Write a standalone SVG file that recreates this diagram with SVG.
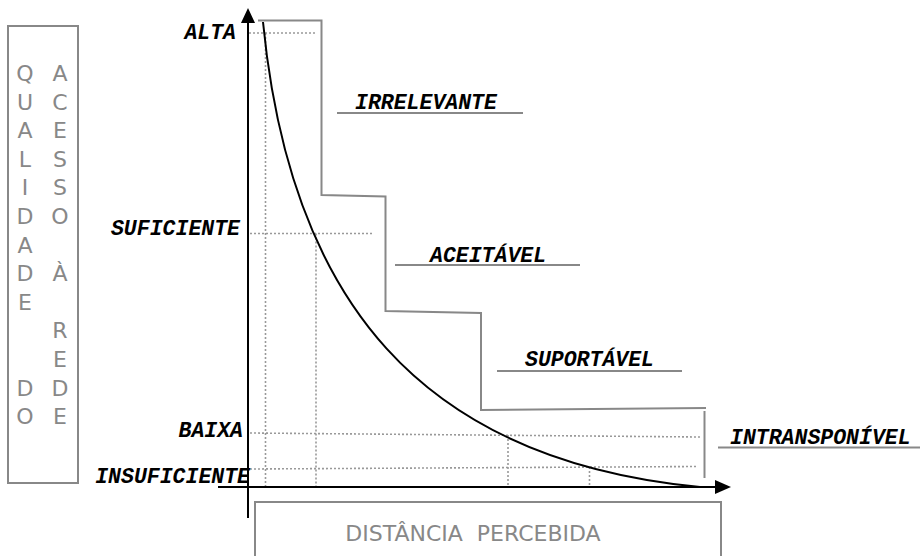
<svg xmlns="http://www.w3.org/2000/svg" width="920" height="556" viewBox="0 0 920 556">
<style>
.box{fill:none;stroke:#888;stroke-width:2}
.step{fill:none;stroke:#888;stroke-width:2}
.dot{fill:none;stroke:#999;stroke-width:1.6;stroke-dasharray:2 2}
.axis{fill:none;stroke:#000;stroke-width:2}
.lbl{font-family:"Liberation Mono","Courier New",monospace;font-weight:bold;font-style:italic;font-size:21.5px;fill:#000}
.side{font-family:"DejaVu Sans",sans-serif;font-size:22px;fill:#888;text-anchor:middle}
</style>
<rect width="920" height="556" fill="#fff"/>
<g id="y-box">
<rect class="box" x="8" y="26" width="70" height="457"/>
<g class="side">
<text x="25" y="81">Q</text><text x="25" y="109.6">U</text><text x="25" y="138.2">A</text><text x="25" y="166.8">L</text><text x="25" y="195.4">I</text><text x="25" y="224">D</text><text x="25" y="252.6">A</text><text x="25" y="281.2">D</text><text x="25" y="309.8">E</text><text x="25" y="395.6">D</text><text x="25" y="424.2">O</text>
<text x="60" y="81">A</text><text x="60" y="109.6">C</text><text x="60" y="138.2">E</text><text x="60" y="166.8">S</text><text x="60" y="195.4">S</text><text x="60" y="224">O</text><text x="60" y="281.2">À</text><text x="60" y="338.4">R</text><text x="60" y="367">E</text><text x="60" y="395.6">D</text><text x="60" y="424.2">E</text>
</g>
</g>
<g id="x-box">
<path class="box" d="M255,560 V502 H721 V560"/>
<text class="side" x="473" y="541" xml:space="preserve">DISTÂNCIA  PERCEBIDA</text>
</g>
<g id="grid">
<path class="dot" d="M249,33 H316"/>
<path class="dot" d="M265.5,33 V487"/>
<path class="dot" d="M250,233.5 H373"/>
<path class="dot" d="M316,233.5 V487"/>
<path class="dot" d="M250,433 L700,437"/>
<path class="dot" d="M250,469 L698,466.5"/>
<path class="dot" d="M508,435 V487"/>
<path class="dot" d="M589.5,467 V487"/>
</g>
<g id="steps">
<path class="step" d="M258,20.5 H321.5 V195 L385.5,196.5 V311 L481,313 V410 L706,408"/>
<path class="step" d="M704.5,411 V478"/>
</g>
<g id="connectors">
<path class="axis" d="M248,518 V18"/>
<path d="M248,8 L241,23 L255,23 Z" fill="#000"/>
<path class="axis" d="M218,487 H718"/>
<path d="M731,487 L715,480 L715,494 Z" fill="#000"/>
<path class="axis" d="M263,22 C290,300 420,460 700,487"/>
</g>
<g id="levels">
<text class="lbl" x="236" y="39" text-anchor="end">ALTA</text>
<text class="lbl" x="240" y="235" text-anchor="end">SUFICIENTE</text>
<text class="lbl" x="243" y="437" text-anchor="end">BAIXA</text>
<text class="lbl" x="250" y="483" text-anchor="end">INSUFICIENTE</text>
</g>
<g id="zones">
<text class="lbl" x="355" y="109">IRRELEVANTE</text>
<path class="step" d="M337,113 H523"/>
<text class="lbl" x="430" y="262">ACEITÁVEL</text>
<path class="step" d="M395,265 H580"/>
<text class="lbl" x="525" y="366">SUPORTÁVEL</text>
<path class="step" d="M497,371 H682"/>
<text class="lbl" x="730" y="444">INTRANSPONÍVEL</text>
<path class="step" d="M718,447.5 H920"/>
</g>
</svg>
